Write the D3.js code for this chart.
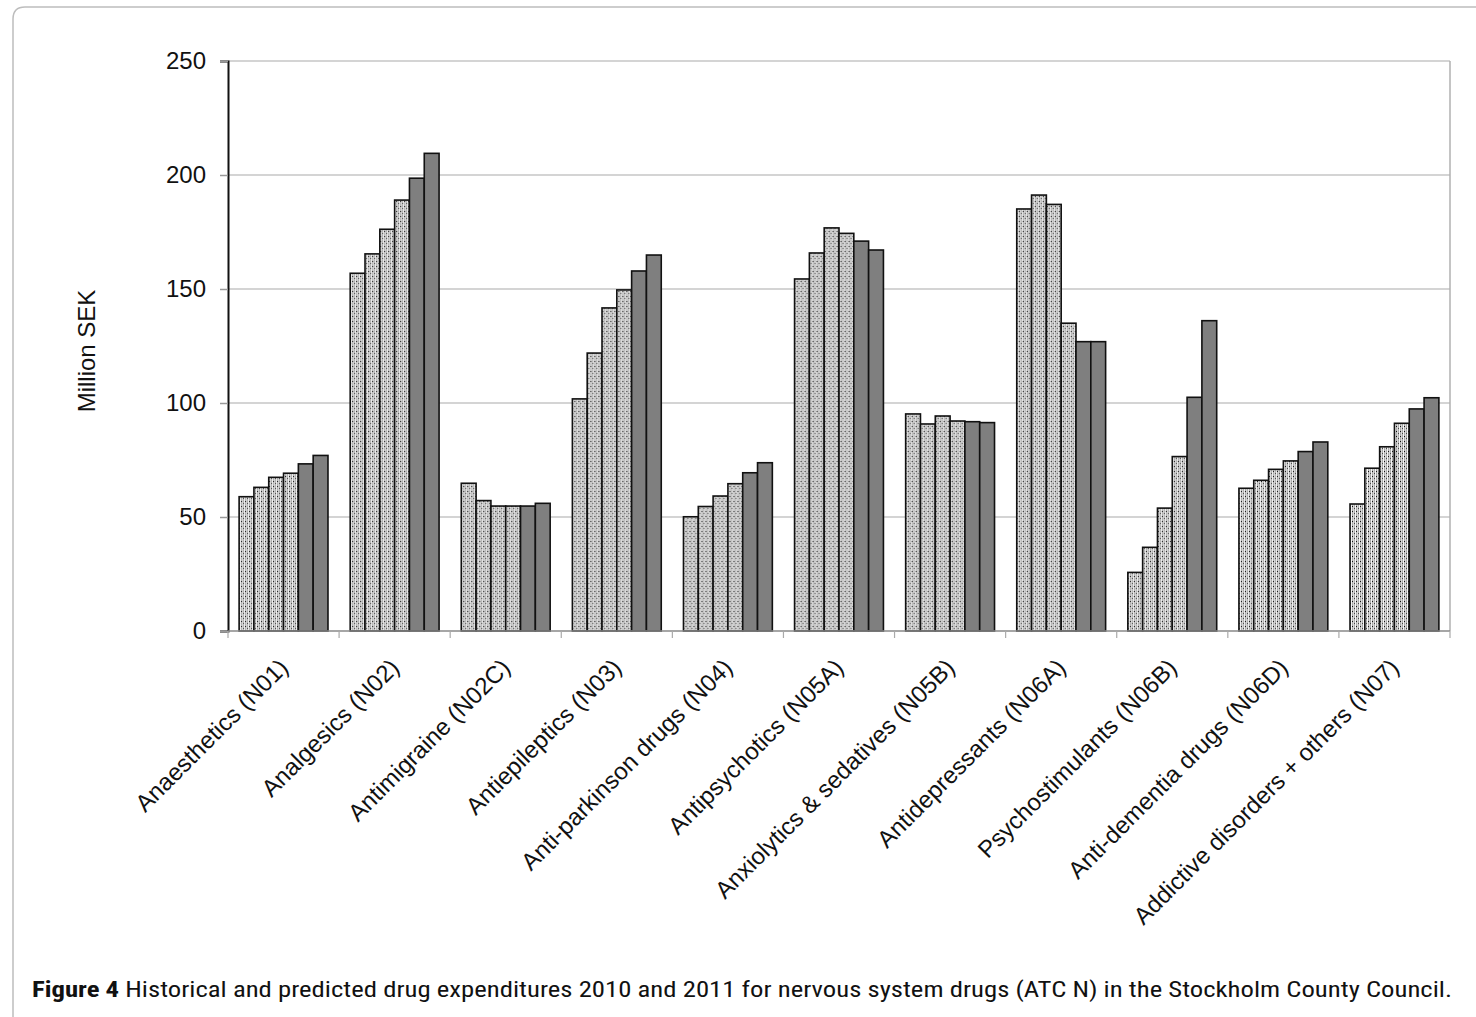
<!DOCTYPE html>
<html>
<head>
<meta charset="utf-8">
<script src="https://cdn.jsdelivr.net/npm/d3@7"></script>
<style>
  html, body { margin: 0; padding: 0; background: #fff; }
  svg { display: block; }
  .tick text { font-family: "Liberation Sans", Arial, sans-serif; }
</style>
</head>
<body>
<div id="viz"></div>
<script>
const categories = [
  'Anaesthetics (N01)', 'Analgesics (N02)', 'Antimigraine (N02C)', 'Antiepileptics (N03)',
  'Anti-parkinson drugs (N04)', 'Antipsychotics (N05A)', 'Anxiolytics & sedatives (N05B)',
  'Antidepressants (N06A)', 'Psychostimulants (N06B)', 'Anti-dementia drugs (N06D)',
  'Addictive disorders + others (N07)'
];
const years = ['2006', '2007', '2008', '2009', '2010', '2011'];
const predicted = [false, false, false, false, true, true];
// one row per category, one value per year (million SEK)
const values = [
  [58.9, 63.0, 67.4, 69.2, 73.3, 77.0],
  [156.9, 165.4, 176.2, 189.0, 198.6, 209.5],
  [64.8, 57.2, 54.8, 54.8, 54.8, 56.0],
  [101.8, 121.9, 141.7, 149.6, 157.9, 164.9],
  [50.1, 54.6, 59.2, 64.6, 69.4, 73.8],
  [154.4, 165.8, 176.8, 174.4, 171.0, 167.1],
  [95.2, 90.8, 94.3, 92.1, 91.8, 91.4],
  [185.1, 191.2, 187.1, 135.0, 126.9, 126.9],
  [25.7, 36.7, 53.9, 76.5, 102.5, 136.1],
  [62.6, 66.1, 70.9, 74.6, 78.7, 82.9],
  [55.7, 71.4, 80.8, 91.1, 97.4, 102.3]
];
const yTicks = [0, 50, 100, 150, 200, 250];

const width = 1476, height = 1017;
const P = { left: 228, right: 1450, top: 61, bottom: 631 };
const FONT = '"Liberation Sans", Arial, sans-serif';

const svg = d3.select('#viz').append('svg')
  .attr('width', width).attr('height', height);

// dotted fill for historical bars
const defs = svg.append('defs');
const pat = defs.append('pattern')
  .attr('id', 'dots').attr('patternUnits', 'userSpaceOnUse')
  .attr('width', 4).attr('height', 5);
pat.append('rect').attr('width', 4).attr('height', 5).attr('fill', '#aaaaaa');
pat.append('rect').attr('x', 1).attr('y', 0).attr('width', 1).attr('height', 5).attr('fill', '#f6f6f6');
pat.append('rect').attr('x', 3).attr('y', 0).attr('width', 1).attr('height', 5).attr('fill', '#dddddd');
pat.append('rect').attr('x', 2).attr('y', 1).attr('width', 1).attr('height', 1).attr('fill', '#111');
pat.append('rect').attr('x', 0).attr('y', 3).attr('width', 1).attr('height', 1).attr('fill', '#444');

// figure frame with rounded corner
svg.append('path')
  .attr('d', `M13,1017 L13,19 Q13,7 25,7 L1476,7`)
  .attr('fill', 'none').attr('stroke', '#bdbdbd').attr('stroke-width', 1.5);

const x0 = d3.scaleBand().domain(categories).range([P.left, P.right])
  .paddingInner(0.2).paddingOuter(0.1);
const x1 = d3.scaleBand().domain(years).range([0, x0.bandwidth()]).padding(0);
const y = d3.scaleLinear().domain([0, 250]).range([P.bottom, P.top]);

// gridlines
svg.append('g')
  .selectAll('line').data(yTicks.filter(t => t > 0)).join('line')
  .attr('x1', P.left).attr('x2', P.right)
  .attr('y1', d => y(d)).attr('y2', d => y(d))
  .attr('stroke', '#c6c6c6').attr('stroke-width', 1.5);

// right border
svg.append('line')
  .attr('x1', P.right).attr('x2', P.right).attr('y1', P.top).attr('y2', P.bottom)
  .attr('stroke', '#b0b0b0').attr('stroke-width', 1.5);

// bars
const groups = svg.append('g').selectAll('g').data(categories).join('g')
  .attr('transform', d => `translate(${x0(d)},0)`);
groups.selectAll('rect')
  .data((c, i) => values[i].map((v, j) => ({ year: years[j], v, pred: predicted[j] })))
  .join('rect')
  .attr('x', d => x1(d.year))
  .attr('y', d => y(d.v))
  .attr('width', x1.bandwidth())
  .attr('height', d => y(0) - y(d.v))
  .attr('fill', d => d.pred ? '#7f7f7f' : 'url(#dots)')
  .attr('stroke', '#111').attr('stroke-width', 1.6);

// y axis
const yAxis = svg.append('g')
  .attr('transform', `translate(${P.left},0)`)
  .call(d3.axisLeft(y).tickValues(yTicks).tickSize(8).tickPadding(14));
yAxis.select('.domain').attr('stroke', '#111').attr('stroke-width', 2);
yAxis.selectAll('.tick line').attr('stroke', '#999').attr('stroke-width', 1.5);
yAxis.selectAll('.tick text').attr('font-size', 24).attr('fill', '#111');

// x axis: ticks between groups
const bounds = d3.range(categories.length + 1).map(i => P.left + i * x0.step());
svg.append('line')
  .attr('x1', P.left).attr('x2', P.right).attr('y1', P.bottom).attr('y2', P.bottom)
  .attr('stroke', '#888').attr('stroke-width', 1.5);
svg.append('g').selectAll('line').data(bounds).join('line')
  .attr('x1', d => d).attr('x2', d => d)
  .attr('y1', P.bottom).attr('y2', P.bottom + 7)
  .attr('stroke', '#aaa').attr('stroke-width', 1.2);

// category labels
svg.append('g').selectAll('text').data(categories).join('text')
  .attr('transform', d => `translate(${x0(d) + x0.bandwidth() / 2 + 6},${P.bottom + 38}) rotate(-45)`)
  .attr('text-anchor', 'end')
  .attr('font-family', FONT)
  .attr('font-size', 24).attr('fill', '#111')
  .text(d => d);

// y label
svg.append('text')
  .attr('transform', `translate(95,${(P.top + P.bottom) / 2 + 5}) rotate(-90)`)
  .attr('text-anchor', 'middle')
  .attr('font-family', FONT)
  .attr('font-size', 24).attr('fill', '#111')
  .text('Million SEK');

// caption
const cap = svg.append('text')
  .attr('x', 32).attr('y', 997)
  .attr('font-family', '"Liberation Sans Narrow", "Roboto Condensed", "Open Sans", sans-serif')
  .attr('font-size', 22).attr('fill', '#111')
  .attr('textLength', 1420).attr('lengthAdjust', 'spacingAndGlyphs');
cap.append('tspan').attr('font-weight', 'bold').text('Figure 4');
cap.append('tspan').text(' Historical and predicted drug expenditures 2010 and 2011 for nervous system drugs (ATC N) in the Stockholm County Council.');
</script>
</body>
</html>
